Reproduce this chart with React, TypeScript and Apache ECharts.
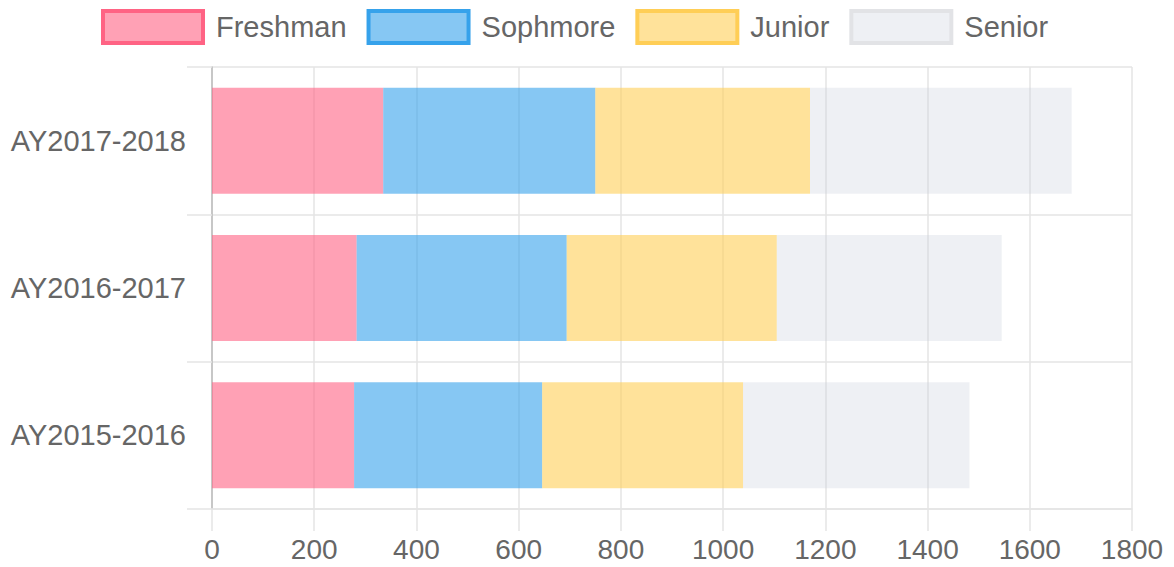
import React, { useEffect, useRef } from "react";
import * as echarts from "echarts";

const categories = ["AY2017-2018", "AY2016-2017", "AY2015-2016"];
const freshman = [335, 283, 278];
const sophomore = [415, 411, 368];
const junior = [420, 411, 393];
const senior = [512, 440, 443];
const xTicks = [0, 200, 400, 600, 800, 1000, 1200, 1400, 1600, 1800];

const seriesDefs = [
  { name: "Freshman", data: freshman, fill: "rgba(255,99,132,0.6)", border: "#FF6384" },
  { name: "Sophmore", data: sophomore, fill: "rgba(54,162,235,0.6)", border: "#36A2EB" },
  { name: "Junior", data: junior, fill: "rgba(255,206,86,0.6)", border: "#FFCE56" },
  { name: "Senior", data: senior, fill: "rgba(200,204,220,0.3)", border: "#E2E3E6" },
];

const FONT = "'Helvetica Neue', Helvetica, Arial, 'Liberation Sans', sans-serif";

export default function App() {
  const ref = useRef<HTMLDivElement>(null);
  useEffect(() => {
    if (!ref.current) return;
    const chart = echarts.init(ref.current, null, { renderer: "svg" });
    chart.setOption({
      animation: false,
      textStyle: { fontFamily: FONT },
      legend: {
        top: 4,
        left: 96,
        itemWidth: 100,
        itemHeight: 32,
        itemGap: 20,
        textStyle: { fontSize: 29, color: "#666", fontFamily: FONT, padding: [0, 0, 0, 8] },
        data: seriesDefs.map((s) => ({
          name: s.name,
          icon: "rect",
          itemStyle: { color: s.fill, borderColor: s.border, borderWidth: 4 },
        })),
      },
      grid: { left: 212, right: 42, top: 67, bottom: 58 },
      xAxis: {
        type: "value",
        min: xTicks[0],
        max: xTicks[xTicks.length - 1],
        interval: 200,
        axisLine: { show: true, lineStyle: { color: "#e5e5e5", width: 1.5 } },
        axisTick: { show: true, length: 22, lineStyle: { color: "#e5e5e5", width: 1.5 } },
        axisLabel: {
          fontSize: 28,
          color: "#666",
          margin: 26,
          fontFamily: FONT,
          formatter: (v: number) => String(v),
        },
        splitLine: { show: true, lineStyle: { color: "#e5e5e5", width: 1.5 } },
      },
      yAxis: {
        type: "category",
        data: categories,
        inverse: true,
        axisLine: { show: true, lineStyle: { color: "#bbb", width: 1.5 } },
        axisTick: { show: true, length: 25, lineStyle: { color: "#e5e5e5", width: 1.5 } },
        axisLabel: { fontSize: 29, color: "#666", margin: 26, fontFamily: FONT },
        splitLine: { show: true, lineStyle: { color: "#e5e5e5", width: 1.5 } },
      },
      series: seriesDefs.map((s) => ({
        name: s.name,
        type: "bar",
        stack: "total",
        barCategoryGap: "28%",
        data: s.data,
        itemStyle: { color: s.fill },
        emphasis: { disabled: true },
      })),
    });
    return () => chart.dispose();
  }, []);
  return (
    <div
      ref={ref}
      style={{ position: "fixed", left: 0, top: 0, width: 1174, height: 567, background: "#fff" }}
    />
  );
}
